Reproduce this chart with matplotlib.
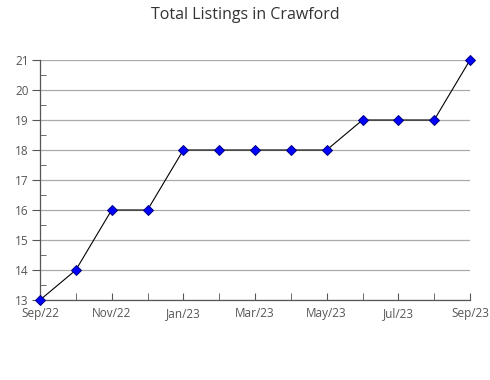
import matplotlib
matplotlib.use("Agg")
import matplotlib.pyplot as plt
from matplotlib.ticker import MultipleLocator

months = ["Sep/22", "Oct/22", "Nov/22", "Dec/22", "Jan/23", "Feb/23", "Mar/23",
          "Apr/23", "May/23", "Jun/23", "Jul/23", "Aug/23", "Sep/23"]
listings = [13, 14, 16, 16, 18, 18, 18, 18, 18, 19, 19, 19, 21]

plt.rcParams['font.family'] = ['Open Sans', 'DejaVu Sans']

fig = plt.figure(figsize=(4.9, 3.8), dpi=100)
ax = fig.add_axes([40/490, 1-300/380, 430/490, 240/380])

x = list(range(len(months)))
ax.plot(x, listings, color='black', linewidth=0.8, zorder=3, clip_on=False)
ax.plot(x, listings, linestyle='none', marker='D', markersize=5.5, clip_on=False,
        markerfacecolor='#0000ff', markeredgecolor='#000080', markeredgewidth=0.7, zorder=4)

ax.set_xlim(0, len(months) - 1)
ax.set_ylim(13, 21)
ax.set_xticks(x[::2])
ax.set_xticklabels(months[::2])
ax.set_xticks(x[1::2], minor=True)
ax.yaxis.set_major_locator(MultipleLocator(1))
ax.yaxis.set_minor_locator(MultipleLocator(0.5))

ax.grid(axis='y', which='major', color='#aaaaaa', linewidth=0.9, zorder=0)
for s in ['top', 'right']:
    ax.spines[s].set_visible(False)
for s in ['left', 'bottom']:
    ax.spines[s].set_color('#555555')
    ax.spines[s].set_linewidth(0.9)

ax.tick_params(axis='y', which='major', direction='out', length=6, color='#555555',
               labelsize=8.5, labelcolor='#555555', pad=2)
ax.tick_params(axis='y', which='minor', direction='in', length=4, color='#555555')
ax.tick_params(axis='x', which='both', direction='in', length=5, color='#555555',
               labelsize=8.5, labelcolor='#555555', pad=5)

fig.text(0.5, 1-15/380, "Total Listings in Crawford", ha='center', va='center',
         fontsize=11.5, color='#333333')

fig.savefig("out.png", dpi=100)
